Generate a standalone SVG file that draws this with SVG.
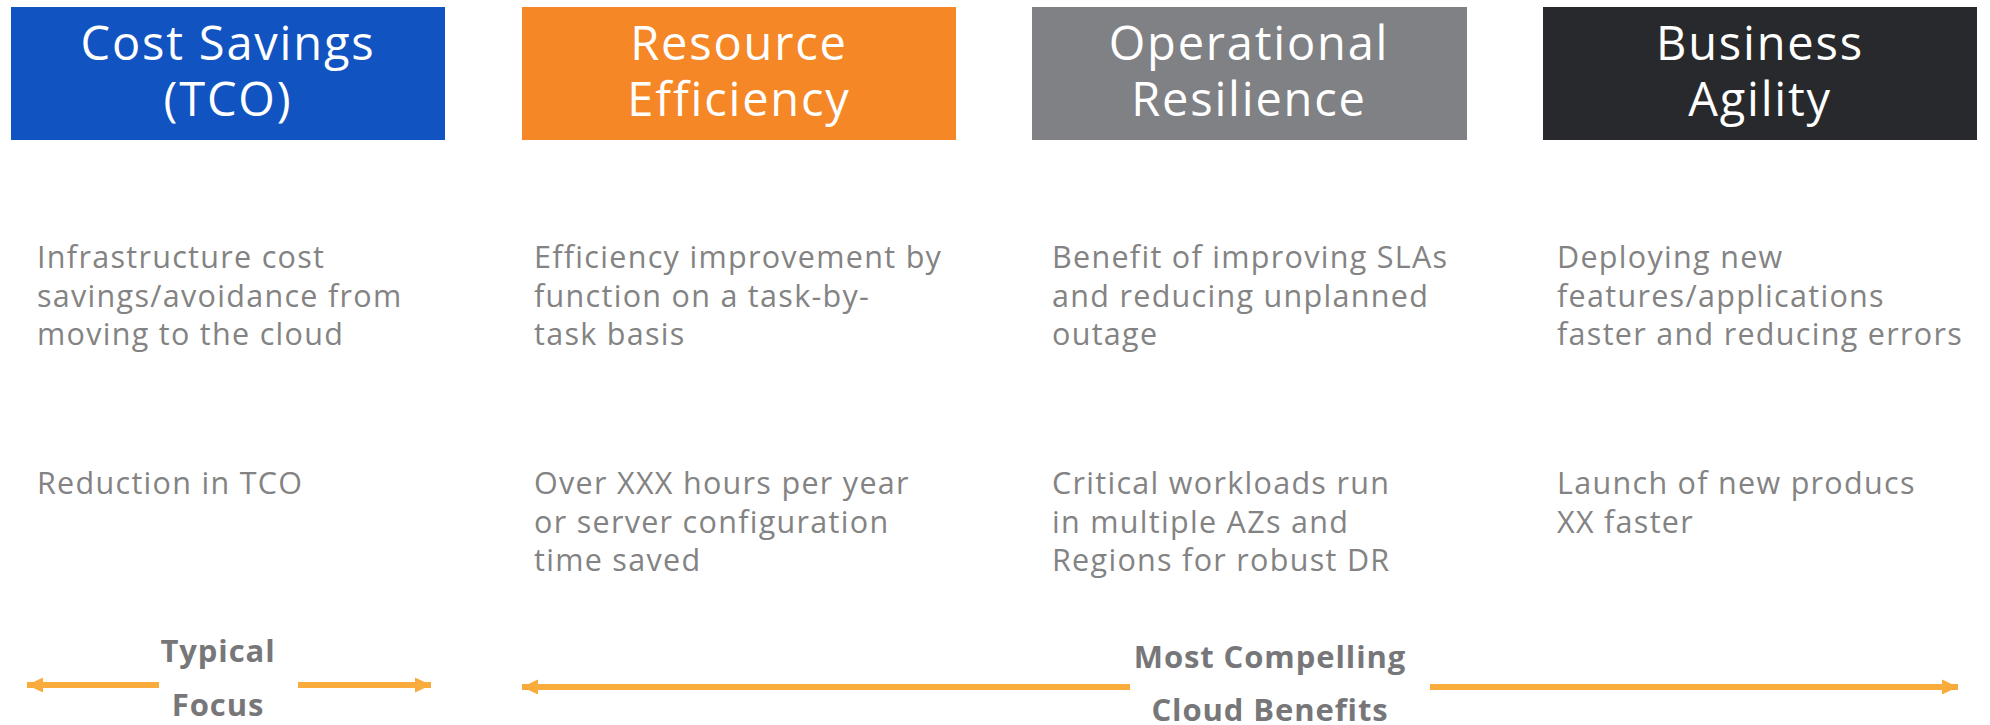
<svg xmlns="http://www.w3.org/2000/svg" width="1990" height="725" viewBox="0 0 1990 725">
<defs>
<style>
.hdr{font-family:"Open Sans","Liberation Sans",sans-serif;font-size:47px;letter-spacing:1.8px;fill:#ffffff;text-anchor:middle}
.body{font-family:"Open Sans","Liberation Sans",sans-serif;font-size:30.5px;letter-spacing:1.3px;fill:#838383}
.lbl{font-family:"Open Sans","Liberation Sans",sans-serif;font-size:31px;letter-spacing:0.9px;font-weight:bold;fill:#77777a;text-anchor:middle}
.arr{stroke:#f9ab3c;stroke-width:6;fill:none;marker-end:url(#ah)}
</style>
<marker id="ah" markerUnits="userSpaceOnUse" markerWidth="17" markerHeight="16" refX="16" refY="8" orient="auto" viewBox="0 0 17 16">
<path d="M0,0.5 L16,8 L0,15.5 Z" fill="#f9ab3c"/>
</marker>
</defs>
<rect width="1990" height="725" fill="#ffffff"/>

<g id="node-cost">
<rect x="11" y="7" width="434" height="133" fill="#1053c1"/>
<text class="hdr" x="228" y="60">Cost Savings</text>
<text class="hdr" x="228" y="116">(TCO)</text>
<text class="body" x="37" y="268">Infrastructure cost</text>
<text class="body" x="37" y="306.5">savings/avoidance from</text>
<text class="body" x="37" y="345">moving to the cloud</text>
<text class="body" x="37" y="494">Reduction in TCO</text>
</g>

<g id="node-resource">
<rect x="522" y="7" width="434" height="133" fill="#f58726"/>
<text class="hdr" x="739" y="60">Resource</text>
<text class="hdr" x="739" y="116">Efficiency</text>
<text class="body" x="534" y="268">Efficiency improvement by</text>
<text class="body" x="534" y="306.5">function on a task-by-</text>
<text class="body" x="534" y="345">task basis</text>
<text class="body" x="534" y="494">Over XXX hours per year</text>
<text class="body" x="534" y="532.5">or server configuration</text>
<text class="body" x="534" y="571">time saved</text>
</g>

<g id="node-operational">
<rect x="1032" y="7" width="435" height="133" fill="#808184"/>
<text class="hdr" x="1249" y="60">Operational</text>
<text class="hdr" x="1249" y="116">Resilience</text>
<text class="body" x="1052" y="268">Benefit of improving SLAs</text>
<text class="body" x="1052" y="306.5">and reducing unplanned</text>
<text class="body" x="1052" y="345">outage</text>
<text class="body" x="1052" y="494">Critical workloads run</text>
<text class="body" x="1052" y="532.5">in multiple AZs and</text>
<text class="body" x="1052" y="571">Regions for robust DR</text>
</g>

<g id="node-business">
<rect x="1543" y="7" width="434" height="133" fill="#28292d"/>
<text class="hdr" x="1760" y="60">Business</text>
<text class="hdr" x="1760" y="116">Agility</text>
<text class="body" x="1557" y="268">Deploying new</text>
<text class="body" x="1557" y="306.5">features/applications</text>
<text class="body" x="1557" y="345">faster and reducing errors</text>
<text class="body" x="1557" y="494">Launch of new producs</text>
<text class="body" x="1557" y="532.5">XX faster</text>
</g>

<g id="label-typical">
<text class="lbl" x="218" y="662">Typical</text>
<text class="lbl" x="218" y="716">Focus</text>
</g>

<g id="label-compelling">
<text class="lbl" x="1270" y="668">Most Compelling</text>
<text class="lbl" x="1270" y="721">Cloud Benefits</text>
</g>

<g id="connectors">
<line class="arr" x1="159" y1="685" x2="27" y2="685"/>
<line class="arr" x1="298" y1="685" x2="431" y2="685"/>
<line class="arr" x1="1130" y1="687" x2="522" y2="687"/>
<line class="arr" x1="1430" y1="687" x2="1958" y2="687"/>
</g>
</svg>
